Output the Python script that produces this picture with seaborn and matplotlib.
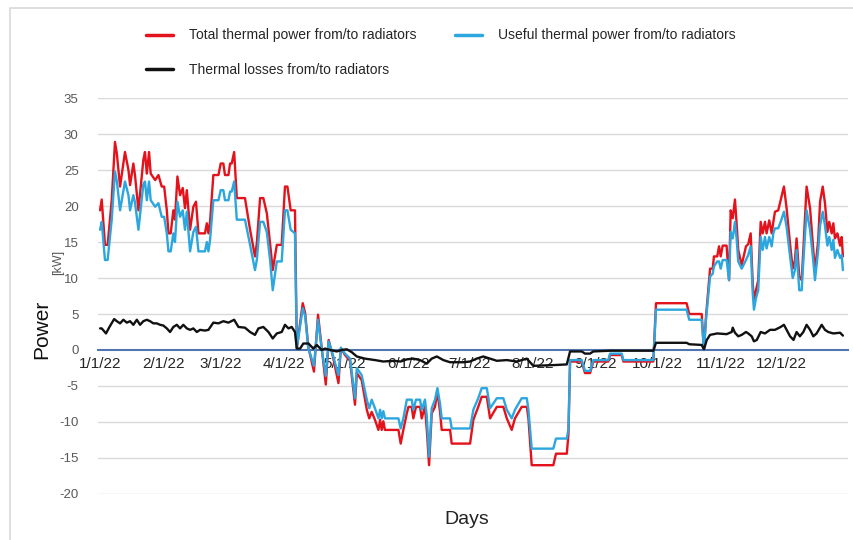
import matplotlib
matplotlib.use("Agg")
import matplotlib.pyplot as plt
import matplotlib.patches as mpatches
import numpy as np
import pandas as pd
import seaborn as sns

# ---------------- data ----------------
# day offsets from 1 Jan 2022 shared by the two power series
power_days = [0, 0.8, 2.4, 3.7, 5.7, 7.3, 8.2, 9.8, 12.2, 13.9, 14.7, 16.3, 17.1, 18.8,
              21.2, 22.0, 22.9, 24.0, 24.8, 27.0, 28.6, 30.2, 31.4, 32.7, 33.5, 34.6,
              35.9, 36.7, 37.9, 39.2, 40.5, 41.6, 42.5, 44.1, 45.7, 47.0, 48.2, 51.4,
              52.3, 53.1, 53.9, 55.5, 58.0, 59.1, 60.4, 61.2, 62.9, 63.7, 64.5, 65.7,
              67.0, 71.0, 73.5, 75.9, 76.8, 78.4, 80.0, 81.7, 83.3, 84.6, 86.6, 89.0,
              90.6, 91.8, 93.4, 95.5, 96.4, 99.3, 100.5, 102.0, 104.8, 106.8, 108.5,
              110.6, 112.0, 114.0, 116.8, 118.0, 120.0, 122.5, 124.9, 125.8, 128.2,
              130.7, 131.9, 133.1, 134.7, 136.4, 137.2, 138.0, 138.8, 139.6, 146.2,
              147.3, 148.6, 150.3, 151.1, 152.7, 153.5, 154.8, 156.8, 157.6, 159.2,
              160.1, 161.2, 162.5, 164.1, 165.3, 166.6, 167.4, 171.5, 172.3, 181.3,
              182.9, 185.3, 187.0, 189.5, 191.1, 194.4, 197.6, 199.3, 201.7, 203.3,
              206.6, 209.1, 209.9, 211.5, 222.1, 223.4, 228.7, 229.5, 230.3, 236.0,
              237.6, 240.1, 241.7, 249.0, 249.9, 255.6, 256.4, 271.1, 272.4, 287.4,
              288.7, 294.8, 295.9, 296.9, 298.9, 300.2, 300.8, 302.4, 303.3, 304.1,
              305.1, 307.0, 308.2, 309.0, 310.0, 311.1, 311.9, 312.7, 314.4, 316.5,
              317.6, 318.8, 319.8, 320.4, 321.4, 322.5, 323.7, 324.7, 325.8, 326.6,
              327.9, 329.1, 329.9, 330.7, 332.3, 333.5, 335.1, 336.4, 338.1, 339.4,
              340.5, 341.3, 342.6, 343.8, 344.6, 346.2, 347.9, 349.5, 350.3, 351.9,
              352.8, 354.1, 355.2, 356.4, 357.3, 358.5, 359.3, 360.1, 361.3, 362.6,
              363.4, 364.0]

total_kw = [19.4, 20.9, 14.6, 14.6, 20.8, 28.9, 27.3, 22.7, 27.5, 25.0, 22.9, 25.9, 24.3, 19.4,
            26.4, 27.5, 24.5, 27.5, 24.5, 23.6, 24.3, 22.7, 22.7, 19.4, 16.2, 16.2,
            19.4, 18.1, 24.1, 21.5, 22.5, 19.7, 22.2, 16.7, 19.9, 20.6, 16.2, 16.2,
            17.6, 16.2, 17.8, 24.3, 24.3, 25.9, 25.9, 24.3, 24.3, 25.9, 25.9, 27.5,
            21.1, 21.1, 16.7, 13.0, 14.8, 21.1, 21.1, 19.0, 14.8, 11.1, 14.6, 14.6,
            22.7, 22.7, 19.4, 19.4, 0.3, 6.5, 5.1, 0.5, -3.0, 4.9, 0.5,
            -4.8, 1.4, -0.8, -4.6, 0.3, -0.7, -1.5, -7.6, -3.2, -4.2,
            -8.3, -9.5, -8.6, -9.7, -11.1, -9.7, -11.1, -9.9, -11.1, -11.1,
            -13.0, -11.1, -8.8, -7.9, -7.9, -9.5, -7.9, -7.9, -9.5, -7.9,
            -11.1, -16.0, -8.8, -7.9, -5.8, -8.6, -11.1, -11.1, -13.0, -13.0,
            -9.7, -7.9, -6.5, -6.5, -9.5, -7.9, -7.9, -9.5, -11.1, -9.5,
            -7.9, -7.9, -9.5, -16.0, -16.0, -14.4, -14.4, -11.7, -1.6, -1.6,
            -3.2, -3.2, -1.6, -1.6, -0.7, -0.7, -1.6, -1.6, 6.5, 6.5,
            5.0, 5.0, 0.0, 4.6, 11.3, 11.3, 13.0, 13.0, 14.4, 13.0,
            14.5, 14.5, 9.7, 19.4, 18.3, 20.9, 17.6, 13.9, 11.8, 14.4,
            14.7, 16.2, 9.3, 6.9, 8.3, 9.7, 17.8, 16.2, 17.8, 16.2,
            18.0, 16.2, 17.8, 19.2, 19.4, 20.8, 22.7, 19.7, 14.7, 11.3,
            12.5, 15.5, 10.2, 9.7, 13.9, 22.7, 19.7, 13.9, 10.9, 15.3,
            20.6, 22.7, 20.4, 16.4, 17.8, 16.2, 17.6, 15.5, 16.2, 14.5,
            15.7, 13.0]

useful_kw = [16.7, 17.8, 12.5, 12.5, 18.1, 24.8, 23.5, 19.4, 23.4, 21.5, 19.4, 21.5, 20.5, 16.7,
             23.0, 23.4, 20.8, 23.4, 20.8, 19.9, 20.4, 18.5, 18.5, 16.2, 13.7, 13.7,
             16.2, 15.0, 20.6, 18.5, 19.4, 16.7, 19.2, 13.7, 16.4, 17.1, 13.7, 13.7,
             15.0, 13.7, 15.3, 20.8, 20.8, 22.2, 22.2, 20.8, 20.8, 22.0, 22.0, 23.4,
             18.1, 18.1, 14.6, 11.1, 12.5, 17.8, 17.8, 16.4, 12.5, 8.3, 12.3, 12.3,
             19.4, 19.4, 16.7, 16.2, 0.2, 5.8, 4.7, 0.3, -2.2, 4.2, 0.3,
             -3.6, 1.2, -0.6, -3.5, 0.3, -0.5, -1.2, -6.7, -2.5, -3.5,
             -6.9, -8.1, -6.9, -8.1, -9.5, -8.3, -9.5, -8.5, -9.5, -9.5,
             -10.9, -9.5, -6.9, -6.9, -6.9, -8.3, -6.9, -6.9, -8.3, -6.9,
             -9.2, -14.8, -8.1, -6.9, -5.3, -7.5, -9.5, -9.5, -10.9, -10.9,
             -8.3, -6.7, -5.3, -5.3, -8.1, -6.7, -6.7, -8.3, -9.5, -8.3,
             -6.7, -6.7, -8.3, -13.7, -13.7, -12.3, -12.3, -11.0, -1.4, -1.4,
             -2.9, -2.9, -1.4, -1.4, -0.5, -0.5, -1.4, -1.4, 5.6, 5.6,
             4.2, 4.2, 0.0, 4.2, 10.2, 10.6, 11.6, 12.3, 12.3, 11.3,
             12.5, 12.5, 9.7, 16.4, 15.5, 17.8, 15.5, 12.3, 11.3, 12.5,
             13.2, 14.4, 7.9, 5.6, 7.2, 8.3, 15.7, 13.9, 15.7, 14.1,
             15.7, 14.4, 16.2, 16.9, 16.9, 17.8, 19.2, 17.1, 13.0, 10.0,
             11.1, 13.9, 8.3, 8.3, 12.3, 19.4, 16.7, 12.3, 9.7, 13.9,
             17.3, 19.2, 17.3, 14.5, 15.7, 13.9, 15.3, 12.8, 13.9, 12.8,
             13.2, 11.1]

loss_days = [0, 0.8, 2.9, 4.6, 6.9, 8.2, 9.8, 11.4, 13.1, 14.7, 16.3, 18.0, 19.6, 21.2,
             22.9, 24.5, 26.1, 27.8, 29.4, 31.0, 32.7, 34.3, 35.9, 37.6, 39.2, 40.8,
             42.5, 44.1, 45.7, 47.4, 49.0, 51.4, 53.1, 55.5, 58.0, 60.4, 62.9, 65.7,
             67.8, 71.0, 73.5, 75.9, 77.6, 80.0, 82.5, 84.6, 86.6, 89.0, 90.6, 92.3,
             93.9, 95.5, 96.4, 98.0, 99.6, 102.1, 104.5, 106.2, 108.6, 110.2, 112.7,
             116.0, 118.4, 120.9, 123.3, 125.8, 129.8, 134.7, 138.8, 143.7, 147.3,
             150.3, 153.5, 156.8, 160.1, 162.5, 165.0, 168.2, 171.5, 178.0, 181.3,
             184.5, 187.8, 191.1, 194.4, 199.3, 204.2, 209.1, 212.3, 222.1, 228.7,
             230.3, 236.0, 237.6, 240.1, 241.7, 249.9, 271.1, 272.4, 287.4, 288.7,
             294.8, 295.9, 297.3, 298.9, 302.4, 307.0, 309.5, 310.0, 311.1, 312.7,
             314.4, 316.5, 317.6, 319.3, 320.4, 321.8, 323.7, 325.8, 328.3, 330.7,
             333.5, 335.1, 336.4, 338.1, 339.8, 341.3, 342.9, 344.6, 346.2, 347.9,
             349.5, 351.1, 353.6, 355.2, 356.8, 359.3, 362.6, 364.0]

loss_kw = [3.0, 3.0, 2.3, 3.2, 4.3, 4.0, 3.7, 4.2, 3.8, 4.0, 3.5, 4.2, 3.5, 4.0,
           4.2, 4.0, 3.7, 3.7, 3.5, 3.4, 3.0, 2.5, 3.2, 3.5, 3.0, 3.5,
           3.0, 2.8, 3.0, 2.5, 2.8, 2.7, 2.8, 3.8, 3.7, 4.0, 3.8, 4.2,
           3.2, 3.1, 2.5, 2.1, 3.0, 3.2, 2.5, 1.6, 2.3, 2.5, 3.5, 3.0,
           3.2, 2.5, 0.2, 0.2, 0.9, 0.9, 0.2, 0.7, 0.0, 0.2, 0.0,
           -0.2, 0.0, 0.1, -0.3, -0.9, -1.2, -1.4, -1.6, -1.5, -1.6,
           -1.3, -1.2, -1.4, -1.9, -1.2, -0.9, -1.4, -1.7, -1.7, -1.6,
           -1.2, -0.9, -1.2, -1.5, -1.4, -1.6, -1.2, -2.2, -2.1, -2.0,
           -0.2, -0.2, -0.5, -0.5, -0.2, -0.1, -0.1, 1.0, 1.0, 0.8,
           0.7, 0.1, 1.4, 2.1, 2.3, 2.2, 2.5, 3.1, 2.4, 1.9,
           2.1, 2.5, 2.3, 1.9, 1.2, 1.4, 2.5, 2.3, 2.8, 2.8,
           3.2, 3.5, 2.8, 1.9, 1.4, 2.5, 1.9, 2.5, 3.5, 2.8,
           1.9, 2.3, 3.5, 2.8, 2.5, 2.3, 2.4, 2.0]

series_names = ["Total thermal power from/to radiators",
                "Useful thermal power from/to radiators",
                "Thermal losses from/to radiators"]
series_colors = ["#E3121B", "#2BA6DE", "#111111"]
month_labels = ["1/1/22", "2/1/22", "3/1/22", "4/1/22", "5/1/22", "6/1/22",
                "7/1/22", "8/1/22", "9/1/22", "10/1/22", "11/1/22", "12/1/22"]
y_ticks = [35, 30, 25, 20, 15, 10, 5, 0, -5, -10, -15, -20]

# ---------------- build frames ----------------
start = pd.Timestamp("2022-01-01")
def to_dates(days):
    return start + pd.to_timedelta(np.asarray(days, dtype=float), unit="D")

df_total = pd.DataFrame({"date": to_dates(power_days), "kw": total_kw})
df_useful = pd.DataFrame({"date": to_dates(power_days), "kw": useful_kw})
df_loss = pd.DataFrame({"date": to_dates(loss_days), "kw": loss_kw})

# ---------------- plot ----------------
sns.set_theme(style="white")
plt.rcParams["font.family"] = ["Liberation Sans", "DejaVu Sans"]

fig = plt.figure(figsize=(8.54, 5.4), dpi=100)
ax = fig.add_axes([0.1148, 0.0852, 0.8782, 0.7333])

# outer light frame
fig.patches.append(mpatches.Rectangle((0.012, -0.02), 1.1, 1.005, transform=fig.transFigure,
                                      fill=False, edgecolor="#D9D9D9", linewidth=1.2))

for y in y_ticks:
    if y != 0:
        ax.axhline(y, color="#D9D9D9", linewidth=1.0, zorder=0)

for df, name, col in [(df_total, series_names[0], series_colors[0]),
                      (df_useful, series_names[1], series_colors[1]),
                      (df_loss, series_names[2], series_colors[2])]:
    sns.lineplot(data=df, x="date", y="kw", ax=ax, color=col, linewidth=1.7,
                 estimator=None, sort=False, label=name, zorder=3, legend=False)

ax.set_ylim(-20, 35)
ax.set_xlim(start - pd.Timedelta(days=1), start + pd.Timedelta(days=366.5))
ax.set_yticks(y_ticks)
ax.set_yticklabels([str(v) for v in y_ticks], color="#595959", fontsize=9.5)

month_pos = pd.date_range("2022-01-01", periods=12, freq="MS")
ax.set_xticks(month_pos)
ax.set_xticklabels(month_labels, color="#595959", fontsize=10)

for s in ["top", "right", "left"]:
    ax.spines[s].set_visible(False)
ax.spines["bottom"].set_position(("data", 0))
ax.spines["bottom"].set_color("#4F74B0")
ax.spines["bottom"].set_linewidth(1.5)
ax.spines["bottom"].set_zorder(2)
ax.tick_params(axis="x", length=0, pad=5)
ax.tick_params(axis="y", length=0, pad=14)
ax.set_xlabel("")
ax.set_ylabel("")
ax.grid(False)

# axis titles
fig.text(467 / 854, 1 - 520 / 540, "Days", ha="center", va="center", fontsize=14, color="#222222")
fig.text(42 / 854, 1 - 329 / 540, "Power", ha="center", va="center", rotation=90,
         fontsize=15, color="#111111")
fig.text(58 / 854, 1 - 262 / 540, "[kW]", ha="center", va="center", rotation=90,
         fontsize=9, color="#595959")

# legend (row-wise order)
h, l = ax.get_legend_handles_labels()
order = [0, 2, 1]
leg = fig.legend([h[i] for i in order], [l[i] for i in order], ncol=2,
                 loc="upper left", bbox_to_anchor=(133 / 854, 1 - 16 / 540),
                 frameon=False, fontsize=10, handlelength=1.95, handletextpad=1.15,
                 labelspacing=1.45, columnspacing=2.8)
for line in leg.get_lines():
    line.set_linewidth(2.5)

fig.savefig("out.png", dpi=100)
